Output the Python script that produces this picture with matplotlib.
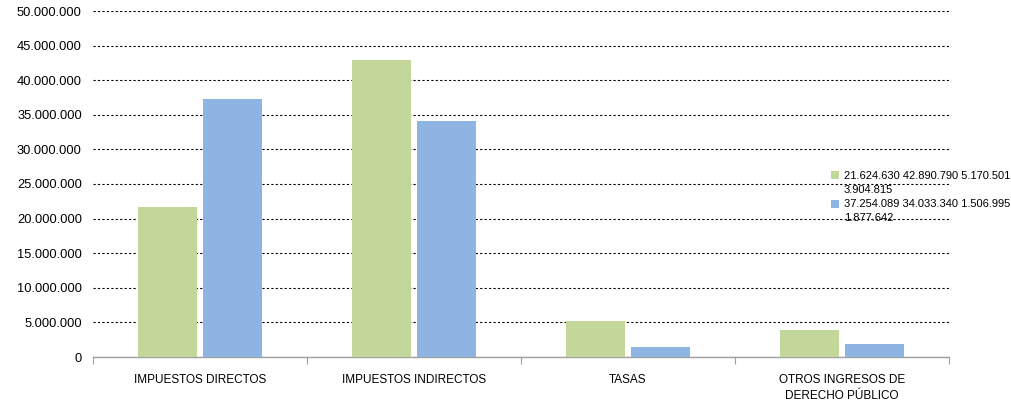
import matplotlib
matplotlib.use("Agg")
import matplotlib.pyplot as plt
import numpy as np
from matplotlib.ticker import FuncFormatter
from matplotlib.legend_handler import HandlerPatch
from matplotlib.patches import Rectangle
from matplotlib.container import BarContainer

plt.rcParams['font.family'] = ['Liberation Sans', 'DejaVu Sans']

categories = ["IMPUESTOS DIRECTOS", "IMPUESTOS INDIRECTOS", "TASAS", "OTROS INGRESOS DE\nDERECHO PÚBLICO"]
series1 = [21624630, 42890790, 5170501, 3904815]
series2 = [37254089, 34033340, 1506995, 1877642]
label1 = "21.624.630 42.890.790 5.170.501\n3.904.815"
label2 = "37.254.089 34.033.340 1.506.995\n1.877.642"
yticks = list(range(0, 50000001, 5000000))

fig = plt.figure(figsize=(10.12, 4.03), dpi=100)
ax = fig.add_axes([93/1012, 1-357/403, (949-93)/1012, (357-11)/403])

x = np.arange(len(categories))
w = 0.28
off = 0.152
ax.bar(x - off, series1, width=w, color="#C4D79B", label=label1, zorder=3)
ax.bar(x + off, series2, width=w, color="#8DB4E2", label=label2, zorder=3)

ax.set_xlim(-0.5, len(categories) - 0.5)
ax.set_ylim(0, 50000000)
ax.set_yticks(yticks)
ax.yaxis.set_major_formatter(FuncFormatter(lambda v, p: f"{int(v):,}".replace(",", ".")))
ax.grid(axis='y', color='black', linestyle=(0, (2, 2)), linewidth=0.8, zorder=0)
ax.set_axisbelow(True)

ax.set_xticks(x)
ax.set_xticklabels(categories, fontsize=8.5, linespacing=1.5)
ax.tick_params(axis='x', length=0, pad=12)
ax.set_xticks(np.arange(-0.5, len(categories), 1), minor=True)
ax.tick_params(axis='x', which='minor', length=5, color='#A0A0A0', width=0.8)
ax.tick_params(axis='y', length=0, labelsize=9.3, pad=8)

for s in ['top', 'right', 'left']:
    ax.spines[s].set_visible(False)
ax.spines['bottom'].set_color('#A0A0A0')
ax.spines['bottom'].set_linewidth(1.0)


def top_square(legend, orig_handle, xdescent, ydescent, width, height, fontsize):
    return Rectangle((-xdescent, -ydescent + 5.5), width, height)


def from_first(legend_handle, orig_handle):
    legend_handle.update_from(orig_handle.patches[0])


handler = HandlerPatch(patch_func=top_square, update_func=from_first)
leg = ax.legend(frameon=False, fontsize=8, handlelength=0.72, handleheight=0.72,
                handletextpad=0.45, labelspacing=0.3, borderaxespad=0,
                borderpad=0, loc='center left',
                handler_map={BarContainer: handler})
for t in leg.get_texts():
    t.set_linespacing(1.6)
leg.set_bbox_to_anchor((831/1012, 1-197/403), transform=fig.transFigure)

fig.savefig("out.png", dpi=100)
